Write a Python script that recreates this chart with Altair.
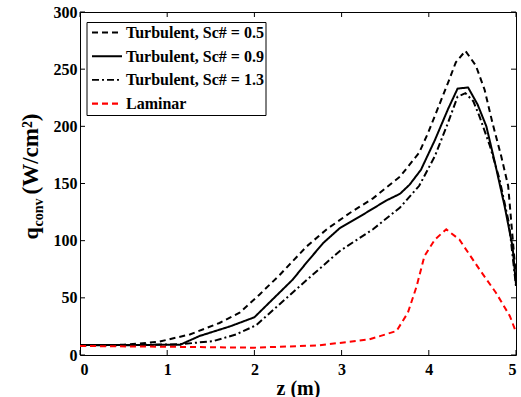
import altair as alt
import pandas as pd

# Axial position z (m) and convective heat flux q (W/cm^2) for each case
z_sc05 = [0, 0.5, 0.9, 1.26, 1.6, 1.83, 2.06, 2.29, 2.6, 2.83, 3.09, 3.36, 3.67,
          3.89, 3.99, 4.1, 4.22, 4.31, 4.42, 4.54, 4.64, 4.73, 4.83, 4.91, 5.0]
q_sc05 = [8, 9, 11.5, 18, 28, 37, 53, 70, 95, 110, 124, 137, 156,
          177, 194, 215, 238, 256, 266, 253, 232, 203, 174, 148, 68]

z_sc09 = [0, 0.5, 1.15, 1.37, 1.72, 2.0, 2.44, 2.6, 2.79, 2.98, 3.25, 3.51, 3.67,
          3.78, 3.91, 4.07, 4.22, 4.33, 4.45, 4.56, 4.66, 4.75, 4.87, 4.96, 5.0]
q_sc09 = [8.7, 8.7, 9, 16.6, 25, 33, 66, 81, 98, 111, 123, 135, 141,
          149, 162, 188, 215, 233, 234, 219, 200, 171, 130, 95, 62]

z_sc13 = [0, 0.5, 1.15, 1.53, 1.79, 2.02, 2.63, 2.98, 3.36, 3.67, 3.89, 4.07,
          4.22, 4.33, 4.42, 4.51, 4.58, 4.7, 4.81, 4.92, 5.0]
q_sc13 = [8.5, 8.5, 9.4, 12.2, 18, 26, 67.6, 91, 110, 129, 148, 174,
          203, 226, 229, 222, 209, 183, 154, 115, 60]

z_lam = [0, 1, 2, 2.75, 3.32, 3.63, 3.76, 3.86, 3.95, 4.07, 4.2, 4.35, 4.58, 4.77, 4.93, 5.0]
q_lam = [7.9, 7.2, 6.4, 8.5, 13.7, 21, 37, 60, 86.5, 101, 110, 101, 75, 54.5, 34, 20]

series_names = ["Turbulent, Sc# = 0.5", "Turbulent, Sc# = 0.9",
                "Turbulent, Sc# = 1.3", "Laminar"]

x_ticks = [0, 1, 2, 3, 4, 5]
y_ticks = [0, 50, 100, 150, 200, 250, 300]

# Line styles per case
colors = ["black", "black", "black", "#ff0000"]
dashes = [[6, 4], [1, 0], [7, 3, 2, 3], [6, 4]]
widths = [2, 2, 1.6, 2.4]

frames = []
for name, zs, qs in zip(series_names,
                        [z_sc05, z_sc09, z_sc13, z_lam],
                        [q_sc05, q_sc09, q_sc13, q_lam]):
    frames.append(pd.DataFrame({"z": zs, "q": qs, "case": name}))
df = pd.concat(frames, ignore_index=True)

W, H = 436, 343
FONT = "Liberation Serif"

x_scale = alt.Scale(domain=[0, 5], nice=False)
y_scale = alt.Scale(domain=[0, 300], nice=False)

x_axis = alt.Axis(values=x_ticks, ticks=False, domain=False, grid=False,
                  labelFont=FONT, labelFontSize=16, labelFontWeight="bold",
                  labelColor="black", labelPadding=6, format="d",
                  title="z (m)", titleFont=FONT, titleFontSize=20,
                  titleFontWeight="bold", titleColor="black", titlePadding=1)
y_axis = alt.Axis(values=y_ticks, ticks=False, domain=False, grid=False,
                  labelFont=FONT, labelFontSize=16, labelFontWeight="bold",
                  labelColor="black", labelPadding=3, format="d", title=None)

lines = alt.Chart(df).mark_line(clip=True).encode(
    x=alt.X("z:Q", scale=x_scale, axis=x_axis),
    y=alt.Y("q:Q", scale=y_scale, axis=y_axis),
    color=alt.Color("case:N", scale=alt.Scale(domain=series_names, range=colors),
                    legend=None),
    strokeDash=alt.StrokeDash("case:N", scale=alt.Scale(domain=series_names, range=dashes),
                              legend=None),
    strokeWidth=alt.StrokeWidth("case:N", scale=alt.Scale(domain=series_names, range=widths),
                                legend=None),
)

# Inward tick marks on all four sides
xt = pd.DataFrame({"t": x_ticks})
yt = pd.DataFrame({"t": y_ticks})
tick_bottom = alt.Chart(xt).mark_rule(color="black", strokeWidth=1).encode(
    x=alt.X("t:Q", scale=x_scale), y=alt.value(H), y2=alt.value(H - 5))
tick_top = alt.Chart(xt).mark_rule(color="black", strokeWidth=1).encode(
    x=alt.X("t:Q", scale=x_scale), y=alt.value(0), y2=alt.value(5))
tick_left = alt.Chart(yt).mark_rule(color="black", strokeWidth=1).encode(
    y=alt.Y("t:Q", scale=y_scale), x=alt.value(0), x2=alt.value(5))
tick_right = alt.Chart(yt).mark_rule(color="black", strokeWidth=1).encode(
    y=alt.Y("t:Q", scale=y_scale), x=alt.value(W), x2=alt.value(W - 5))

one = pd.DataFrame({"a": [0]})

# Boxed legend in the upper-left corner
legend_box = alt.Chart(one).mark_rect(
    fill="white", stroke="black", strokeWidth=1
).encode(x=alt.value(7), x2=alt.value(186), y=alt.value(10.5), y2=alt.value(103.5))

legend_layers = [legend_box]
ROW0, ROWSTEP = 20.5, 23.7
for i, name in enumerate(series_names):
    yy = ROW0 + i * ROWSTEP
    legend_layers.append(
        alt.Chart(one).mark_rule(color=colors[i], strokeDash=dashes[i],
                                 strokeWidth=widths[i]).encode(
            x=alt.value(12), x2=alt.value(42), y=alt.value(yy)))
    legend_layers.append(
        alt.Chart(one).mark_text(text=name, align="left", baseline="middle",
                                 font=FONT, fontSize=16, fontWeight="bold",
                                 color="black").encode(
            x=alt.value(46), y=alt.value(yy + 0.5)))

# Y-axis title: q with subscript "conv", then (W/cm²)
def ytext(txt, x, y, size):
    return alt.Chart(one).mark_text(
        text=txt, angle=270, align="left", baseline="alphabetic",
        font=FONT, fontSize=size, fontWeight="bold", color="black"
    ).encode(x=alt.value(x), y=alt.value(y))

ytitle = (ytext("q", -42, 227.5, 22) + ytext("conv", -37.5, 214.5, 14)
          + ytext("(W/cm²)", -42, 182.5, 23))

chart = alt.layer(
    lines, tick_bottom, tick_top, tick_left, tick_right, ytitle, *legend_layers
).properties(
    width=W, height=H,
    padding={"left": 80, "top": 12, "right": 5, "bottom": 42},
    autosize=alt.AutoSizeParams(type="none"),
    background="white",
).configure_view(
    stroke="black", strokeWidth=1
)

chart.save("out.html", embed_options={"renderer": "svg", "actions": False})
